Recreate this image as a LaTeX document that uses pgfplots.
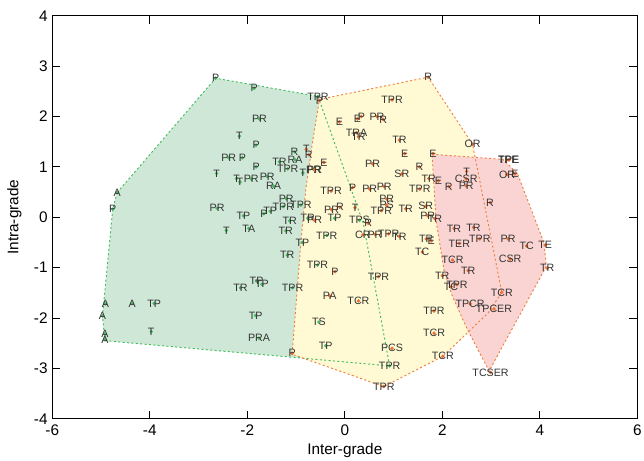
\documentclass[border=0pt]{standalone}
\usepackage{fontspec}
\setmainfont{Liberation Sans}
\usepackage{pgfplots}
\pgfplotsset{compat=1.18}
\definecolor{gfill}{RGB}{207,231,214}
\definecolor{yfill}{RGB}{255,250,212}
\definecolor{pfill}{RGB}{250,212,210}
\definecolor{gline}{RGB}{60,190,90}
\definecolor{oline}{RGB}{240,125,60}
\definecolor{gpt}{RGB}{70,185,95}
\definecolor{opt}{RGB}{240,110,50}
\pgfplotsset{lab/.style={only marks, mark=*, mark size=1.1pt,
  nodes near coords, point meta=explicit symbolic,
  nodes near coords style={anchor=center, inner sep=0pt, font=\fontsize{8}{9}\selectfont, text=black!80}}}
\begin{document}
\begin{tikzpicture}
\begin{axis}[
  scale only axis, width=438.8pt, height=302.3pt,
  xmin=-6, xmax=6, ymin=-4, ymax=4,
  xtick={-6,-4,-2,0,2,4,6}, ytick={-4,-3,-2,-1,0,1,2,3,4},
  tick align=inside, major tick length=6pt,
  every tick/.style={black, line width=0.6pt},
  axis line style={line width=0.8pt},
  /pgf/number format/assume math mode=true,
  ticklabel style={font=\fontsize{11.5}{13}\selectfont},
  xticklabel style={yshift=-1pt},
  xlabel={Inter-grade}, ylabel={Intra-grade},
  xlabel style={at={(axis description cs:0.5,-0.0794)}, anchor=center, font=\fontsize{11.5}{13}\selectfont},
  ylabel style={at={(axis description cs:-0.0646,0.5)}, anchor=center, font=\fontsize{11.5}{13}\selectfont},
  clip=false,
]
% fills
\addplot[draw=none, fill=gfill] coordinates {(-4.67,0.49) (-2.65,2.76) (-0.55,2.40) (0.38,-0.12) (0.92,-2.95) (-4.92,-2.45) (-4.97,-1.96) (-4.76,0.16)} -- cycle;
\addplot[draw=none, fill=yfill] coordinates {(-0.52,2.34) (1.71,2.78) (2.62,1.45) (3.22,-1.49) (2.94,-1.90) (2.01,-2.76) (0.80,-3.36) (-1.08,-2.72) (-0.90,-0.50) (-0.80,0.55) (-0.66,1.50)} -- cycle;
\addplot[draw=none, fill=pfill] coordinates {(1.79,1.25) (3.24,1.15) (3.54,0.87) (4.09,-0.52) (4.13,-0.98) (2.96,-3.05) (2.51,-2.22) (2.20,-1.55) (2.04,-1.08) (1.87,-0.05)} -- cycle;
% outlines
\addplot[draw=gline, dash pattern=on 1.5pt off 1.8pt, line width=0.7pt] coordinates {(-4.67,0.49) (-2.65,2.76) (-0.55,2.40) (0.38,-0.12) (0.92,-2.95) (-4.92,-2.45) (-4.97,-1.96) (-4.76,0.16)} -- cycle;
\addplot[draw=oline, dash pattern=on 1.5pt off 1.8pt, line width=0.7pt] coordinates {(-0.52,2.34) (1.71,2.78) (2.62,1.45) (3.22,-1.49) (2.94,-1.90) (2.01,-2.76) (0.80,-3.36) (-1.08,-2.72) (-0.90,-0.50) (-0.80,0.55) (-0.66,1.50)} -- cycle;
\addplot[draw=oline, dash pattern=on 1.5pt off 1.8pt, line width=0.7pt] coordinates {(1.79,1.25) (3.24,1.15) (3.54,0.87) (4.09,-0.52) (4.13,-0.98) (2.96,-3.05) (2.51,-2.22) (2.20,-1.55) (2.04,-1.08) (1.87,-0.05)} -- cycle;
% green points
\addplot[lab, color=gpt] table[meta=l] {
x y l
-2.65 2.76 P
-1.86 2.56 P
-0.55 2.40 TPR
-1.75 1.95 PR
-2.16 1.61 T
-1.82 1.43 P
-2.38 1.18 PR
-2.10 1.18 P
-1.82 1.00 P
-2.63 0.87 T
-2.22 0.77 T
-2.15 0.70 T
-1.92 0.76 PR
-1.59 0.81 PR
-1.46 0.62 RA
-1.34 1.10 TR
-1.02 1.14 RA
-1.03 1.30 R
-1.17 0.96 TPR
-0.86 0.88 T
-0.64 0.95 PR
-4.67 0.49 A
-4.76 0.16 P
-2.62 0.18 PR
-2.08 0.03 TP
-2.43 -0.26 T
-1.97 -0.22 TA
-1.66 0.07 P
-1.53 0.12 TP
-1.20 0.37 PR
-1.26 0.21 TPR
-0.90 0.24 TPR
-1.13 -0.07 TR
-1.21 -0.27 TR
-0.76 -0.02 TR
-0.87 -0.50 TP
-1.18 -0.75 TR
-2.14 -1.40 TR
-1.81 -1.27 TP
-1.70 -1.33 TP
-1.07 -1.40 TPR
-4.91 -1.72 A
-4.36 -1.71 A
-3.91 -1.71 TP
-4.97 -1.96 A
-3.97 -2.27 T
-4.92 -2.32 A
-4.92 -2.43 A
-1.83 -1.95 TP
-1.76 -2.40 PRA
-0.21 -0.02 TP
-0.37 -0.36 TPR
-0.56 -0.95 TPR
-0.53 -2.08 TS
-0.39 -2.55 TP
0.92 -2.95 TPR
0.30 -0.06 TPS
};
% orange points (middle cluster)
\addplot[lab, color=opt] table[meta=l] {
x y l
-0.52 2.32 P
1.71 2.78 R
0.97 2.33 TPR
-0.11 1.89 E
0.26 1.95 E
0.34 2.00 P
0.66 2.00 PR
0.79 1.94 R
0.24 1.68 TRA
0.28 1.60 TR
1.12 1.53 TR
2.62 1.45 OR
1.23 1.26 E
-0.79 1.35 T
-0.74 1.24 R
-0.43 1.09 E
-0.62 0.94 PR
0.57 1.06 PR
1.53 1.00 R
1.17 0.86 SR
1.54 0.56 TPR
-0.28 0.52 TPR
0.16 0.59 P
0.51 0.56 PR
0.81 0.61 PR
0.86 0.36 PR
0.86 0.24 PS
0.75 0.13 TPR
1.25 0.17 TR
1.66 0.22 SR
-0.27 0.15 PR
-0.10 0.20 R
0.21 0.19 T
0.48 -0.12 R
-0.62 -0.06 PR
0.37 -0.35 CR
0.62 -0.34 PR
0.90 -0.33 TPR
1.12 -0.38 TR
1.67 -0.43 TR
1.77 -0.47 E
1.59 -0.69 TC
-0.20 -1.08 P
0.69 -1.18 TPR
-0.31 -1.56 PA
0.28 -1.66 TCR
0.97 -2.60 PCS
0.80 -3.36 TPR
1.83 -1.86 TPR
1.83 -2.30 TCR
2.01 -2.76 TCR
-1.08 -2.70 P
1.70 0.03 PR
1.85 -0.03 TR
1.81 1.26 E
1.72 0.77 TR
1.92 0.72 E
2.50 0.91 T
2.49 0.76 CSR
2.13 0.61 R
2.49 0.62 PR
};
% orange points (right cluster)
\addplot[lab, color=opt] table[meta=l] {
x y l
3.35 1.14 TPE
3.37 1.14 TPE
3.33 0.85 OR
3.49 0.86 E
2.98 0.29 R
2.24 -0.22 TR
2.64 -0.20 TR
2.35 -0.52 TER
2.77 -0.43 TPR
3.35 -0.43 PR
3.73 -0.57 TC
4.11 -0.55 TE
3.39 -0.83 CSR
4.15 -1.01 TR
2.21 -0.85 TCR
2.53 -1.06 TR
2.00 -1.16 TR
2.18 -1.38 TC
2.30 -1.34 TPR
3.22 -1.49 TCR
2.57 -1.72 TPCR
3.06 -1.82 TPCER
2.99 -3.08 TCSER
};
\end{axis}
\pgfresetboundingbox
\path (-39.2pt,-31.5pt) rectangle (443.8pt,314.1pt);
\end{tikzpicture}
\end{document}
